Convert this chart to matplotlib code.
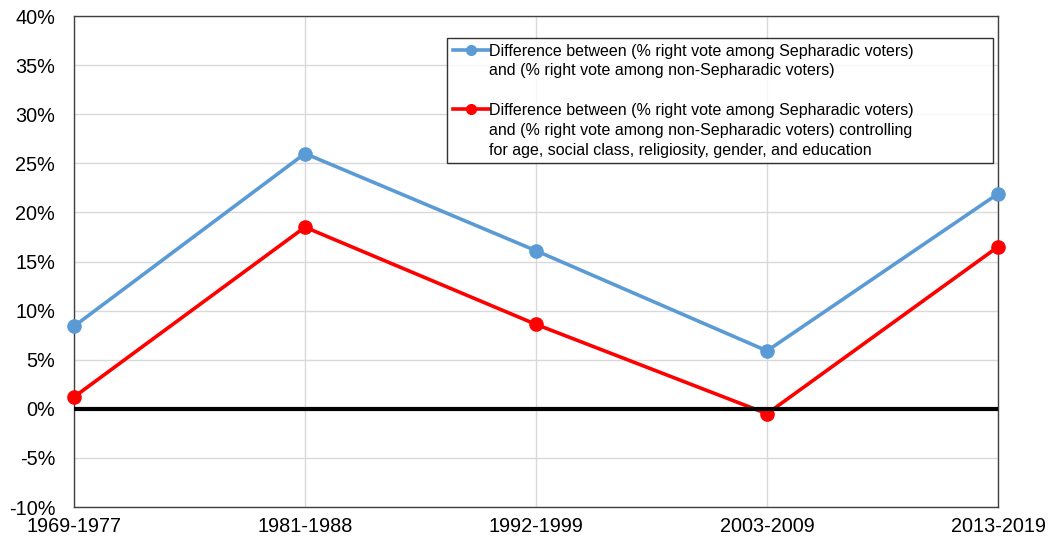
import matplotlib.pyplot as plt
from matplotlib.lines import Line2D

plt.rcParams['font.family'] = ['Liberation Sans', 'DejaVu Sans']
plt.rcParams['axes.unicode_minus'] = False

periodos = ["1969-1977", "1981-1988", "1992-1999", "2003-2009", "2013-2019"]
dif_bruta = [0.084, 0.260, 0.161, 0.059, 0.219]
dif_controlada = [0.012, 0.185, 0.086, -0.005, 0.165]
marcas_y = [-10, -5, 0, 5, 10, 15, 20, 25, 30, 35, 40]

azul = "#5B9BD5"
vermelho = "#FF0000"

fig = plt.figure(figsize=(10.49, 5.45), dpi=100)
ax = fig.add_axes([0.0705, 0.0697, 0.8809, 0.9009])

x = list(range(len(periodos)))
ax.plot(x, dif_bruta, color=azul, lw=2.6, marker="o", markersize=9.5, zorder=3, clip_on=False)
ax.plot(x, dif_controlada, color=vermelho, lw=2.6, marker="o", markersize=9.5, zorder=3, clip_on=False)
ax.axhline(0, color="black", lw=3, zorder=4)

ax.set_xlim(0, len(periodos) - 1)
ax.set_ylim(-0.10, 0.40)
ax.set_yticks([v / 100 for v in marcas_y])
ax.set_yticklabels([f"{v}%" for v in marcas_y])
ax.set_xticks(x)
ax.set_xticklabels(periodos)
ax.tick_params(length=0, labelsize=14.3)
ax.tick_params(axis="y", pad=13.5)
ax.tick_params(axis="x", pad=7.5)
ax.grid(True, color="#d9d9d9", lw=1, zorder=0)
ax.set_axisbelow(True)
for s in ax.spines.values():
    s.set_color("#404040")
    s.set_linewidth(1)

vazio = Line2D([], [], linestyle="none")
handles = [
    Line2D([], [], color=azul, lw=2.6, marker="o", markersize=7),
    vazio,
    vazio,
    Line2D([], [], color=vermelho, lw=2.6, marker="o", markersize=7),
    vazio,
    vazio,
]
labels = [
    "Difference between (% right vote among Sepharadic voters)",
    "and (% right vote among non-Sepharadic voters)",
    " ",
    "Difference between (% right vote among Sepharadic voters)",
    "and (% right vote among non-Sepharadic voters) controlling",
    "for age, social class, religiosity, gender, and education",
]
leg = ax.legend(handles, labels, loc="upper left", bbox_to_anchor=(0.4037, 0.0, 0.591, 0.955),
                mode="expand", fontsize=11.5, frameon=True, fancybox=False, edgecolor="black",
                handlelength=2.3, handletextpad=0.0, labelspacing=0.3,
                borderpad=0.35, borderaxespad=0)
leg.get_frame().set_linewidth(1)
leg.set_zorder(5)

fig.savefig("out.png", dpi=100)
